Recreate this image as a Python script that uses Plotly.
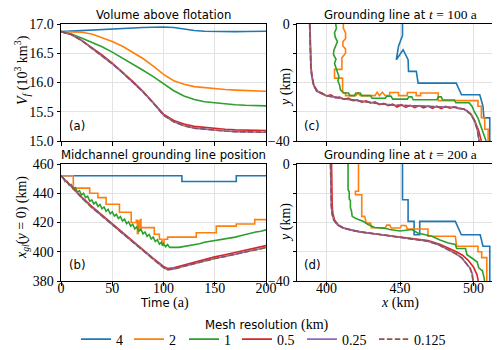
import plotly.graph_objects as go

# ---------------- data ----------------
RESOLUTIONS = ["4", "2", "1", "0.5", "0.25", "0.125"]
COLORS = ["#1f77b4", "#ff7f0e", "#2ca02c", "#d62728", "#9467bd", "#8c564b"]

# (a) volume above flotation (10^3 km^3)
T_VF = [0, 10, 20, 30, 40, 50, 60, 70, 80, 90, 100, 110, 120, 130, 140, 150, 160, 170, 180, 190, 200]
VF_4 = [16.87, 16.88, 16.89, 16.90, 16.91, 16.92, 16.93, 16.935, 16.94, 16.945, 16.95, 16.94, 16.91, 16.89, 16.875, 16.87, 16.87, 16.87, 16.872, 16.875, 16.875]
VF_2 = [16.87, 16.87, 16.86, 16.83, 16.77, 16.70, 16.62, 16.52, 16.41, 16.28, 16.14, 16.03, 15.97, 15.93, 15.91, 15.89, 15.88, 15.87, 15.86, 15.85, 15.85]
VF_1 = [16.87, 16.83, 16.76, 16.69, 16.61, 16.52, 16.42, 16.32, 16.21, 16.10, 15.98, 15.86, 15.77, 15.71, 15.67, 15.65, 15.63, 15.62, 15.61, 15.60, 15.60]
VF_05 = [16.87, 16.82, 16.72, 16.60, 16.47, 16.33, 16.18, 16.02, 15.85, 15.66, 15.46, 15.35, 15.29, 15.25, 15.23, 15.21, 15.20, 15.19, 15.19, 15.18, 15.18]
VF_025 = [16.87, 16.82, 16.72, 16.59, 16.46, 16.32, 16.17, 16.01, 15.84, 15.65, 15.44, 15.33, 15.26, 15.22, 15.20, 15.18, 15.17, 15.16, 15.16, 15.15, 15.15]
VF_0125 = [16.87, 16.82, 16.72, 16.59, 16.46, 16.32, 16.17, 16.01, 15.84, 15.65, 15.44, 15.33, 15.26, 15.22, 15.20, 15.18, 15.17, 15.16, 15.16, 15.15, 15.15]

# (b) midchannel grounding line position (km)
T_GL_4 = [0, 118, 171, 200]           # step series (hv)
GL_4 = [452, 448, 452, 452]
T_GL_2 = [0, 12, 28, 36, 44, 57, 68.5, 73.5, 74.5, 75.5, 76.5, 77.5, 78, 91, 96, 98.5, 100.5, 104, 132, 151.5, 171, 189, 200]
GL_2 = [452, 443.5, 440, 437, 432.5, 427, 420, 421.5, 412.5, 421, 415, 422, 416.5, 412, 408.5, 406, 408.5, 410, 413, 417.5, 419, 422, 422]
T_GL_1 = [0, 2, 4, 6, 8, 10, 12, 14, 16, 18, 20, 22, 24, 26, 28, 30, 32, 34, 36, 38, 40, 42, 44, 46, 48, 50,
          52, 54, 56, 58, 60, 62, 64, 66, 68, 70, 72, 74, 76, 78, 80, 82, 84, 86, 88, 90, 92, 94, 96, 98, 99,
          100, 102, 104, 106, 108, 110, 115, 120, 125, 130, 135, 140, 145, 150, 155, 160, 165, 170, 175, 180,
          185, 190, 195, 200]
GL_1 = [452, 450.5, 448, 448.2, 445.5, 446, 443, 443.8, 440.8, 441.8, 438.8, 440, 437, 438, 434.5, 435.5, 432.7,
        434, 431, 432.3, 429.4, 430.6, 427.7, 429, 426, 427.3, 424.4, 425.6, 422.7, 424, 421, 422.3, 419.2, 420.5,
        417.5, 418.8, 415.7, 417, 414, 415.3, 412.2, 413.5, 410.5, 411.8, 408.7, 410, 407, 408.2, 405.2, 406.5,
        404, 405.5, 403.5, 405, 403, 403.2, 403, 403, 403.5, 404, 405, 405.5, 406.5, 407, 407.5, 408, 409, 409.5,
        410, 411, 412, 412.5, 413.5, 414, 415]
T_GL_F = [0, 10, 20, 30, 40, 50, 60, 70, 80, 90, 100, 104, 110, 120, 130, 140, 150, 160, 170, 180, 190, 200]
GL_05 = [452, 444.5, 437.5, 431, 425, 419.5, 413.5, 407.5, 401.5, 395.5, 390, 388.5, 389, 391, 393, 395, 396.5, 398, 399.5, 401, 402.5, 404.2]
GL_025 = [452, 444.3, 437.1, 430.4, 424.2, 418.6, 412.6, 406.6, 400.6, 394.6, 389.1, 387.7, 388.2, 390.1, 392, 393.9, 395.4, 396.8, 398.3, 399.7, 401.2, 402.9]
GL_0125 = [452, 444.3, 437.1, 430.4, 424.2, 418.6, 412.6, 406.6, 400.6, 394.6, 389.1, 387.7, 388.2, 390.1, 392, 393.9, 395.4, 396.8, 398.3, 399.7, 401.2, 402.9]

# (c) grounding line at t = 100 a : x (km), y (km)
C_X_4 = [451.7, 451.7, 449.0, 447.5, 452.1, 455.5, 455.8, 461.1, 462.3, 488.2, 491.8, 504.2, 506.4, 507.0, 511.0, 511.0]
C_Y_4 = [0, -3.9, -7.6, -12.2, -8.8, -12.2, -16.2, -16.2, -20.2, -20.2, -24.2, -24.2, -28.1, -32.1, -32.1, -40]
C_X_2 = [411.5, 411.5, 413, 413, 411.2, 411.2, 413, 413, 410.5, 410.5, 405.5, 405.5, 411, 411, 413, 413, 420, 421.5, 423, 433,
         434.5, 436, 438, 440, 443, 443, 449, 449, 455, 455, 461, 461, 464, 464, 476, 476, 503, 503, 505.3, 505.3, 507.6,
         507.6, 509.9, 509.9]
C_Y_2 = [0, -1.5, -3, -5, -6, -7.5, -8.5, -10, -11.5, -15.5, -15.5, -18.5, -18.5, -23.5, -23.5, -24.5, -24.5, -23.6, -24.5,
         -24.5, -23.3, -24.5, -23.3, -24.5, -24.5, -23.4, -23.4, -24.5, -24.5, -23.4, -23.4, -24.5, -24.5, -23.6, -23.6,
         -26.2, -26.2, -28.1, -28.1, -32, -32, -36, -36, -40]
C_X_1 = [406.3, 406.8, 405.5, 406, 407.5, 406.2, 405, 404.8, 406.5, 405.5, 406.5, 407.8, 408.5, 407.8, 409, 409.5, 412, 415,
         416, 419, 420, 423, 424, 430, 431, 440, 441, 444, 445, 455, 456, 458, 459, 475, 476, 478, 479, 487, 488, 497, 499,
         500.5, 503, 505, 507, 508.5]
C_Y_1 = [0, -1.5, -3, -4.5, -6, -7.5, -9, -10.5, -12, -13.5, -15, -16.5, -18, -19.5, -21, -22.5, -23.6, -23.6, -24.5, -24.5,
         -23.6, -23.6, -24.5, -24.5, -25.4, -25.4, -24.7, -24.7, -25.7, -25.7, -24.9, -24.9, -25.9, -25.9, -24.9, -24.9,
         -26, -26, -26.9, -26.9, -28.2, -30, -32.2, -35, -37.5, -40]
C_X_05 = [388.8, 388.9, 389.2, 389.6, 390.3, 391.5, 394, 397, 400, 403, 406, 409, 412, 415, 418, 421, 424, 427, 430, 433,
          436, 439, 442, 445, 448, 451, 454, 457, 460, 463, 466, 469, 472, 475, 478, 481, 484, 487, 490, 493, 496, 498.5,
          500.5, 502, 503.5, 504.5, 505.3]
C_Y_05 = [0, -5, -10, -15, -18, -21, -23, -23.6, -24.6, -24.2, -25.2, -25, -25.8, -25.3, -26.2, -25.9, -26.7, -26.3, -27,
          -26.6, -27.6, -27.1, -27.9, -27.4, -28.4, -27.6, -28.5, -27.8, -28.6, -27.9, -28.7, -28, -28.8, -28.1, -28.9,
          -28.2, -28.8, -28.3, -29, -29, -29.8, -31, -32.8, -34.5, -36.5, -38.5, -40]
C_X_F = [388.6, 388.7, 389.0, 389.4, 390.1, 391.3, 393.5, 400, 411, 423, 435, 445, 460, 475, 488, 494, 498, 500.5, 502.5, 503.8]
C_Y_F = [0, -5, -10, -15, -18, -21, -23, -24.5, -25.5, -26.4, -27.2, -27.7, -28.1, -28.3, -28.5, -29.2, -30.8, -33, -36, -40]

# (d) grounding line at t = 200 a
D_X_4 = [451.7, 451.7, 455.5, 455.5, 459.6, 459.6, 463.4, 463.4, 487.6, 491.7, 504.5, 506.4, 511.0, 511.0]
D_Y_4 = [0, -12.2, -12.2, -19.6, -19.6, -24.2, -24.2, -19.6, -19.6, -24.2, -24.2, -28.1, -28.1, -40]
D_X_2 = [421.8, 421.8, 419.7, 419.7, 424, 424, 426, 427.1, 430, 430.5, 440, 441, 443, 444, 450, 451, 454, 455, 469, 469,
         487.6, 488.5, 503, 503, 505.5, 505.5, 509, 509]
D_Y_2 = [0, -9.3, -9.3, -10.5, -10.5, -17.9, -17.9, -20.2, -20.2, -21.8, -21.8, -20.9, -20.9, -21.9, -21.9, -21, -21,
         -22.2, -22.2, -24.7, -24.7, -28.1, -28.1, -30, -30, -32, -32, -40]
D_X_1 = [414.7, 414.7, 415.5, 415.5, 416.3, 416.3, 417, 417.5, 420, 424.9, 428.3, 430.5, 432.9, 440, 443, 450, 458.1, 462,
         466, 471.7, 477.2, 482.8, 487.6, 488.5, 494.5, 495.5, 499.5, 502.5, 503.5, 506, 507, 507.5]
D_Y_1 = [0, -8.8, -9.5, -12, -12.5, -15, -16, -17.9, -18.6, -19.6, -20.7, -21.3, -21.7, -22, -22.4, -22.9, -22.4, -23.6,
         -24, -24.7, -26, -27, -27.5, -28.9, -28.9, -31, -32.4, -33.5, -35.5, -36.5, -38.5, -40]
D_X_05 = [403.5, 403.6, 403.9, 404.4, 405.6, 408, 411.8, 417.5, 423, 435, 445.3, 458, 469, 477, 483, 488, 492.5, 496.5, 500,
          502.3, 503.2]
D_Y_05 = [0, -8, -14, -17, -19.2, -20.8, -21.9, -22.6, -23.2, -24, -24.6, -25.4, -26.2, -27.4, -28.7, -29.9, -31.2, -33,
          -35.3, -37.8, -40]
D_X_F = [402.8, 403, 403.3, 403.8, 405, 407.5, 411.3, 417, 422.6, 435, 445.3, 458, 469, 477, 483, 488, 492, 495, 497.6,
         499, 499.6]
D_Y_F = [0, -8, -14, -17, -19.2, -20.8, -21.9, -22.6, -23.2, -24, -24.7, -25.6, -26.4, -27.8, -29.3, -30.7, -32.1, -33.8,
         -35.6, -37.5, -40]

SERIF_SPAN = "<span style=\"font-family:'Liberation Serif';font-size:13.5px\">"
TITLES = ["Volume above flotation", "Midchannel grounding line position",
          "Grounding line at " + SERIF_SPAN + "<i>t</i> = 100 a</span>",
          "Grounding line at " + SERIF_SPAN + "<i>t</i> = 200 a</span>"]
PANEL_LABELS = ["(a)", "(b)", "(c)", "(d)"]

# ---------------- figure ----------------
W, H = 500, 350
SANS = "DejaVu Sans"
SERIF = "Liberation Serif"


def px(x):
    return x / W


def py(y):
    return 1 - y / H


fig = go.Figure()

series_a = [VF_4, VF_2, VF_1, VF_05, VF_025, VF_0125]
series_b = [(T_GL_4, GL_4, "hv"), (T_GL_2, GL_2, "hv"), (T_GL_1, GL_1, "linear"),
            (T_GL_F, GL_05, "linear"), (T_GL_F, GL_025, "linear"), (T_GL_F, GL_0125, "linear")]
series_c = [(C_X_4, C_Y_4), (C_X_2, C_Y_2), (C_X_1, C_Y_1), (C_X_05, C_Y_05), (C_X_F, C_Y_F), (C_X_F, C_Y_F)]
series_d = [(D_X_4, D_Y_4), (D_X_2, D_Y_2), (D_X_1, D_Y_1), (D_X_05, D_Y_05), (D_X_F, D_Y_F), (D_X_F, D_Y_F)]

LEGEND_IDS = ["legend", "legend2", "legend3", "legend4", "legend5", "legend6"]


def line_style(i):
    return dict(color=COLORS[i], width=1.6, dash="5.5px,2.4px" if i == 5 else "solid")


for i, name in enumerate(RESOLUTIONS):
    fig.add_trace(go.Scatter(x=T_VF, y=series_a[i], mode="lines", name=name, legendgroup=name,
                             legend=LEGEND_IDS[i], line=line_style(i), xaxis="x", yaxis="y", showlegend=True))
    t, v, shape = series_b[i]
    ls = line_style(i)
    ls["shape"] = shape
    fig.add_trace(go.Scatter(x=t, y=v, mode="lines", name=name, legendgroup=name,
                             line=ls, xaxis="x2", yaxis="y2", showlegend=False))
    fig.add_trace(go.Scatter(x=series_c[i][0], y=series_c[i][1], mode="lines", name=name, legendgroup=name,
                             line=line_style(i), xaxis="x3", yaxis="y3", showlegend=False))
    fig.add_trace(go.Scatter(x=series_d[i][0], y=series_d[i][1], mode="lines", name=name, legendgroup=name,
                             line=line_style(i), xaxis="x4", yaxis="y4", showlegend=False))

LEFT_X = [px(53), px(258)]
RIGHT_X = [px(289), px(495)]
TOP_Y = [py(133), py(16)]
BOT_Y = [py(273), py(156)]

GRID = "#e3e3e3"
common = dict(showline=True, linecolor="black", linewidth=1, mirror=True, ticks="outside", ticklen=3.5,
              tickcolor="black", tickwidth=1, showgrid=True, gridcolor=GRID, gridwidth=1, zeroline=False,
              automargin=False, tickfont=dict(family=SERIF, size=14, color="black"))
minor_y = dict(tickvals=[-30, -20, -10], ticks="outside", ticklen=3.5, tickcolor="black", tickwidth=1,
               showgrid=True, gridcolor=GRID, gridwidth=1)

fig.update_layout(
    xaxis=dict(domain=LEFT_X, range=[0, 200], tickvals=[0, 50, 100, 150, 200], showticklabels=False,
               anchor="y", **common),
    yaxis=dict(domain=TOP_Y, range=[15, 17], tickvals=[15, 15.5, 16, 16.5, 17],
               ticktext=["15.0", "15.5", "16.0", "16.5", "17.0"], anchor="x", **common),
    xaxis2=dict(domain=LEFT_X, range=[0, 200], tickvals=[0, 50, 100, 150, 200], anchor="y2",
                ticklabelstandoff=-9, **common),
    yaxis2=dict(domain=BOT_Y, range=[380, 460], tickvals=[380, 400, 420, 440, 460], anchor="x2", **common),
    xaxis3=dict(domain=RIGHT_X, range=[380, 520], tickvals=[400, 450, 500], showticklabels=False,
                anchor="y3", **common),
    yaxis3=dict(domain=TOP_Y, range=[-40, 0], tickvals=[-40, 0], ticktext=["\u221240", "0"],
                minor=minor_y, anchor="x3", **common),
    xaxis4=dict(domain=RIGHT_X, range=[380, 520], tickvals=[400, 450, 500], anchor="y4",
                ticklabelstandoff=-9, **common),
    yaxis4=dict(domain=BOT_Y, range=[-40, 0], tickvals=[-40, 0], ticktext=["\u221240", "0"],
                minor=minor_y, anchor="x4", **common),
)

annotations = []
# panel titles
title_pos = [(155.5, 16), (155.5, 156), (392, 16), (392, 156)]
for (cx, top), title in zip(title_pos, TITLES):
    annotations.append(dict(text=title, x=px(cx), y=py(top), xref="paper", yref="paper",
                            xanchor="center", yanchor="bottom", showarrow=False,
                            font=dict(family=SANS, size=11.7, color="black")))
# panel labels
lab_pos = [(59, 118), (59, 257), (294, 118), (294, 257)]
for (lx, ly), lab in zip(lab_pos, PANEL_LABELS):
    annotations.append(dict(text=lab, x=px(lx), y=py(ly), xref="paper", yref="paper",
                            xanchor="left", yanchor="middle", showarrow=False,
                            font=dict(family=SANS, size=11.7, color="black")))
# axis titles + legend title
axis_titles = [
    dict(text="<i>V<sub>f</sub></i> (10<sup>3</sup> km<sup>3</sup>)", x=px(14), y=py(62), textangle=-90),
    dict(text="<i>x<sub>gl</sub></i>(<i>y</i> = 0) (km)", x=px(14), y=py(210), textangle=-90),
    dict(text="<i>y</i> (km)", x=px(278), y=py(80), textangle=-90),
    dict(text="<i>y</i> (km)", x=px(278), y=py(215), textangle=-90),
    dict(text="<span style=\"font-family:'DejaVu Sans';font-size:11.7px\">Time</span> (a)", x=px(156), y=py(295)),
    dict(text="<i>x</i> (km)", x=px(392), y=py(295)),
    dict(text="<span style=\"font-family:'DejaVu Sans';font-size:11.7px\">Mesh resolution</span> (km)",
         x=px(258.5), y=py(317)),
]
for a in axis_titles:
    a.update(xref="paper", yref="paper", xanchor="center", yanchor="middle", showarrow=False,
             font=dict(family=SERIF, size=14, color="black"))
annotations += axis_titles

# legend entries: one legend box per mesh resolution, placed along one row
LEGEND_LINE_START = [77, 130, 185, 238, 303, 375]
legend_layout = {}
for lid, x0 in zip(LEGEND_IDS, LEGEND_LINE_START):
    legend_layout[lid] = dict(orientation="h", x=px(x0 - 9), xanchor="left", y=py(331.5), yanchor="middle",
                              bgcolor="rgba(0,0,0,0)", borderwidth=0,
                              font=dict(family=SERIF, size=14, color="black"), itemwidth=30)

fig.update_layout(
    annotations=annotations,
    width=W, height=H,
    margin=dict(l=0, r=0, t=0, b=0),
    paper_bgcolor="white", plot_bgcolor="white",
    showlegend=True,
    **legend_layout,
)

fig.write_html("out.html", config={"displayModeBar": False})
